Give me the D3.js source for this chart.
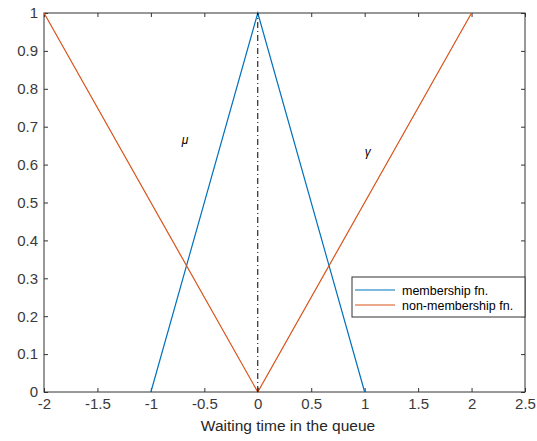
<!DOCTYPE html>
<html>
<head>
    <script src="https://d3js.org/d3.v7.min.js"></script>
    <style>
        body { margin: 0; background: #fff; }
        text { font-family: "Liberation Sans", Arial, sans-serif; }
    </style>
</head>
<body>
    <div id="chart"></div>
    <script>
        // Data
        const memberX = [-1, 0, 1];
        const memberY = [0, 1, 0];
        const nonMemberX = [-2, 0, 2];
        const nonMemberY = [1, 0, 1];
        const xTicks = [-2, -1.5, -1, -0.5, 0, 0.5, 1, 1.5, 2, 2.5];
        const yTicks = [0, 0.1, 0.2, 0.3, 0.4, 0.5, 0.6, 0.7, 0.8, 0.9, 1];
        const seriesNames = ["membership fn.", "non-membership fn."];
        const colors = ["#0072BD", "#D95319"];

        const W = 537, H = 441;
        const margin = {top: 13, right: 12, bottom: 49, left: 44};
        const width = W - margin.left - margin.right;
        const height = H - margin.top - margin.bottom;

        const svg = d3.select("#chart").append("svg")
            .attr("width", W).attr("height", H);
        const g = svg.append("g")
            .attr("transform", `translate(${margin.left},${margin.top})`);

        const x = d3.scaleLinear().domain([-2, 2.5]).range([0, width]);
        const y = d3.scaleLinear().domain([0, 1]).range([height, 0]);

        const axisColor = "#333";
        const fmt = d => String(d);

        // Axes with inward ticks on all four sides
        const styleAxis = sel => {
            sel.select(".domain").remove();
            sel.selectAll(".tick line").attr("stroke", axisColor);
            sel.selectAll(".tick text").attr("fill", "#3a3a3a").attr("font-size", 15);
        };
        g.append("g").attr("transform", `translate(0,${height})`)
            .call(d3.axisBottom(x).tickValues(xTicks).tickFormat(fmt).tickSizeInner(-4).tickSizeOuter(0).tickPadding(6))
            .call(styleAxis);
        g.append("g")
            .call(d3.axisLeft(y).tickValues(yTicks).tickFormat(fmt).tickSizeInner(-4).tickSizeOuter(0).tickPadding(6))
            .call(styleAxis);
        g.append("g")
            .call(d3.axisTop(x).tickValues(xTicks).tickFormat("").tickSizeInner(-4).tickSizeOuter(0))
            .call(styleAxis);
        g.append("g").attr("transform", `translate(${width},0)`)
            .call(d3.axisRight(y).tickValues(yTicks).tickFormat("").tickSizeInner(-4).tickSizeOuter(0))
            .call(styleAxis);

        g.append("rect")
            .attr("width", width).attr("height", height)
            .attr("fill", "none").attr("stroke", axisColor).attr("stroke-width", 1);

        // Lines
        const line = d3.line().x(d => x(d[0])).y(d => y(d[1]));
        const series = [
            d3.zip(memberX, memberY),
            d3.zip(nonMemberX, nonMemberY)
        ];
        series.forEach((s, i) => {
            g.append("path").datum(s)
                .attr("d", line)
                .attr("fill", "none")
                .attr("stroke", colors[i])
                .attr("stroke-width", 1.2);
        });

        // Dash-dot line at x = 0
        g.append("line")
            .attr("x1", x(0)).attr("x2", x(0))
            .attr("y1", y(0)).attr("y2", y(1))
            .attr("stroke", "#000").attr("stroke-width", 1)
            .attr("stroke-dasharray", "6,3,1,3");

        // Greek labels
        g.append("text").attr("x", x(-0.68)).attr("y", y(0.655))
            .attr("font-family", "DejaVu Serif, serif").attr("font-style", "italic")
            .attr("font-size", 12).attr("text-anchor", "middle").text("μ");
        g.append("text").attr("x", x(1.03)).attr("y", y(0.624))
            .attr("font-family", "DejaVu Serif, serif").attr("font-style", "italic")
            .attr("font-size", 12).attr("text-anchor", "middle").text("γ");

        // Legend
        const legX = 352 - margin.left, legY = 277 - margin.top;
        const leg = g.append("g").attr("transform", `translate(${legX},${legY})`);
        leg.append("rect").attr("width", width - legX).attr("height", 40)
            .attr("fill", "#fff").attr("stroke", axisColor).attr("stroke-width", 1);
        seriesNames.forEach((name, i) => {
            const yy = 13 + i * 15;
            leg.append("line").attr("x1", 3).attr("x2", 43)
                .attr("y1", yy).attr("y2", yy)
                .attr("stroke", colors[i]).attr("stroke-width", 1.2);
            leg.append("text").attr("x", 50).attr("y", yy + 4.5)
                .attr("font-size", 12.5).attr("fill", "#000").text(name);
        });

        // X label
        svg.append("text")
            .attr("x", 288).attr("y", 431)
            .attr("text-anchor", "middle").attr("font-size", 15.5)
            .attr("fill", "#262626").text("Waiting time in the queue");
    </script>
</body>
</html>
